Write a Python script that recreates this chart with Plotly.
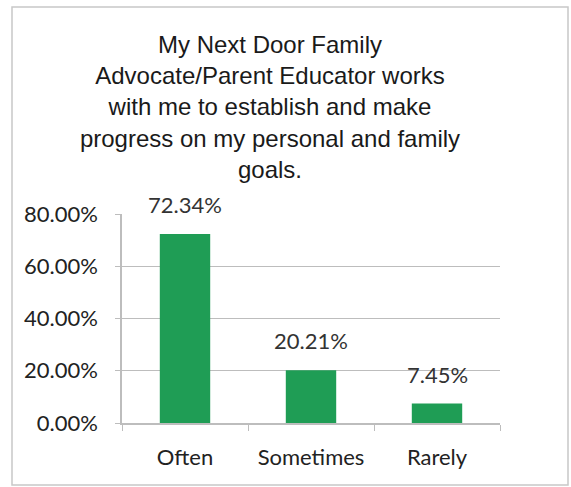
import plotly.graph_objects as go

# Survey responses
categories = ["Often", "Sometimes", "Rarely"]
percentages = [72.34, 20.21, 7.45]
y_ticks = [0, 20, 40, 60, 80]
y_tick_labels = ["0.00%", "20.00%", "40.00%", "60.00%", "80.00%"]

title_lines = [
    "My Next Door Family",
    "Advocate/Parent Educator works",
    "with me to establish and make",
    "progress on my personal and family",
    "goals.",
]

W, H = 571, 487
L, R, T, B = 122, 71, 214, 64
plot_w = W - L - R
plot_h = H - T - B

bar_color = "#1f9d55"
grid_color = "#bdbdbd"
text_font = "Lato, Calibri, Carlito, sans-serif"

fig = go.Figure()
fig.add_trace(go.Bar(
    x=categories,
    y=percentages,
    marker=dict(color=bar_color, line=dict(width=0)),
    width=0.4,
    hoverinfo="skip",
))

# Value labels above each bar
for cat, val in zip(categories, percentages):
    fig.add_annotation(
        x=cat, y=val, xref="x", yref="y",
        text=f"{val:.2f}%",
        showarrow=False,
        yanchor="bottom",
        yshift=14,
        font=dict(family=text_font, size=22, color="#333333"),
    )

# Outer chart frame
def px_to_paper_x(px):
    return (px - L) / plot_w

def px_to_paper_y(py):
    return (H - B - py) / plot_h

fig.add_shape(
    type="rect", xref="paper", yref="paper",
    x0=px_to_paper_x(12), x1=px_to_paper_x(568),
    y0=px_to_paper_y(485), y1=px_to_paper_y(7),
    line=dict(color="#c8c8c8", width=1.5),
    fillcolor="rgba(0,0,0,0)",
    layer="below",
)

fig.update_layout(
    width=W, height=H,
    margin=dict(l=L, r=R, t=T, b=B),
    paper_bgcolor="white",
    plot_bgcolor="white",
    showlegend=False,
    title=dict(
        text="<br>".join(title_lines),
        x=270 / W, xanchor="center", xref="container",
        y=1 - 53 / H, yanchor="top", yref="container",
        font=dict(family="Liberation Sans, Arial, sans-serif", size=24, color="#1a1a1a"),
    ),
    xaxis=dict(
        type="category",
        range=[-0.5, 2.5],
        showline=True, linecolor=grid_color, linewidth=1.5,
        ticks="outside", tickson="boundaries", ticklen=6, tickcolor=grid_color,
        showgrid=False,
        tickfont=dict(family=text_font, size=22, color="#222222"),
        ticklabelstandoff=14,
    ),
    yaxis=dict(
        range=[0, 80],
        tickvals=y_ticks, ticktext=y_tick_labels,
        showline=True, linecolor=grid_color, linewidth=1.5,
        ticks="outside", ticklen=5, tickcolor=grid_color,
        showgrid=True, gridcolor=grid_color, gridwidth=1.2,
        zeroline=False,
        tickfont=dict(family=text_font, size=22, color="#222222"),
        ticklabelstandoff=13,
    ),
)

fig.write_html("out.html")
